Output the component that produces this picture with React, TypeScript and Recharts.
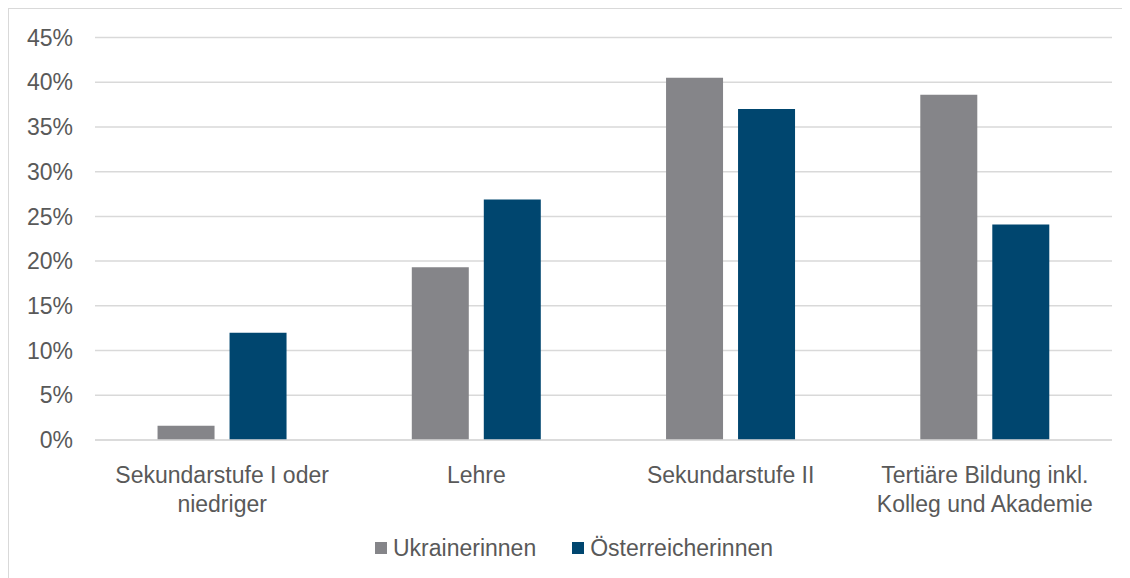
import React from 'react';
import { BarChart, Bar, XAxis, YAxis, CartesianGrid, Legend } from 'recharts';

const categories = [
  'Sekundarstufe I oder|niedriger',
  'Lehre',
  'Sekundarstufe II',
  'Tertiäre Bildung inkl.|Kolleg und Akademie',
];
const ukrainerinnen = [1.6, 19.3, 40.5, 38.6];
const oesterreicherinnen = [12.0, 26.9, 37.0, 24.1];
const yTicks = [0, 5, 10, 15, 20, 25, 30, 35, 40, 45];

const GREY = '#858589';
const BLUE = '#00466f';
const TEXT = '#595959';
const FONT = '"Liberation Sans", Arial, sans-serif';
const FS = 23;

const data = categories.map((c, i) => ({
  name: c,
  ukr: ukrainerinnen[i],
  oes: oesterreicherinnen[i],
}));

const CategoryTick = ({ x, y, payload }: any) => {
  const lines = String(payload.value).split('|');
  return (
    <text x={x} y={y} textAnchor="middle" fill={TEXT} fontSize={FS} fontFamily={FONT}>
      {lines.map((l, i) => (
        <tspan key={i} x={x} dy={i === 0 ? 35 : 29}>
          {l}
        </tspan>
      ))}
    </text>
  );
};

const LegendContent = () => (
  <div style={{ display: 'flex', alignItems: 'center', fontFamily: FONT, fontSize: FS, color: TEXT, lineHeight: '24px' }}>
    <span style={{ width: 12, height: 12, background: GREY, display: 'inline-block', marginRight: 6 }} />
    <span style={{ marginRight: 36 }}>Ukrainerinnen</span>
    <span style={{ width: 12, height: 12, background: BLUE, display: 'inline-block', marginRight: 6 }} />
    <span>Österreicherinnen</span>
  </div>
);

export default function App() {
  return (
    <div
      style={{
        width: 1122,
        height: 570,
        borderTop: '1.5px solid #d9d9d9',
        borderLeft: '1.5px solid #d9d9d9',
        boxSizing: 'border-box',
        background: '#fff',
      }}
    >
      <BarChart
        width={1120}
        height={568}
        data={data}
        margin={{ top: 28.5, right: 17, left: 0, bottom: 0 }}
        barCategoryGap="24.6%"
        barGap={15}
      >
        <CartesianGrid vertical={false} stroke="#d9d9d9" strokeWidth={1.5} />
        <XAxis
          dataKey="name"
          tick={<CategoryTick />}
          tickLine={false}
          axisLine={{ stroke: '#d9d9d9', strokeWidth: 1.5 }}
          height={113}
          interval={0}
        />
        <YAxis
          width={86}
          domain={[0, 45]}
          ticks={yTicks}
          tickFormatter={(v) => `${v}%`}
          tick={{ fill: TEXT, fontSize: FS, fontFamily: FONT }}
          tickLine={false}
          axisLine={false}
          tickSize={0}
          tickMargin={22}
          interval={0}
        />
        <Legend content={<LegendContent />} wrapperStyle={{ top: 527, left: 366, width: 'auto' }} />
        <Bar dataKey="ukr" name="Ukrainerinnen" fill={GREY} isAnimationActive={false} />
        <Bar dataKey="oes" name="Österreicherinnen" fill={BLUE} isAnimationActive={false} />
      </BarChart>
    </div>
  );
}
